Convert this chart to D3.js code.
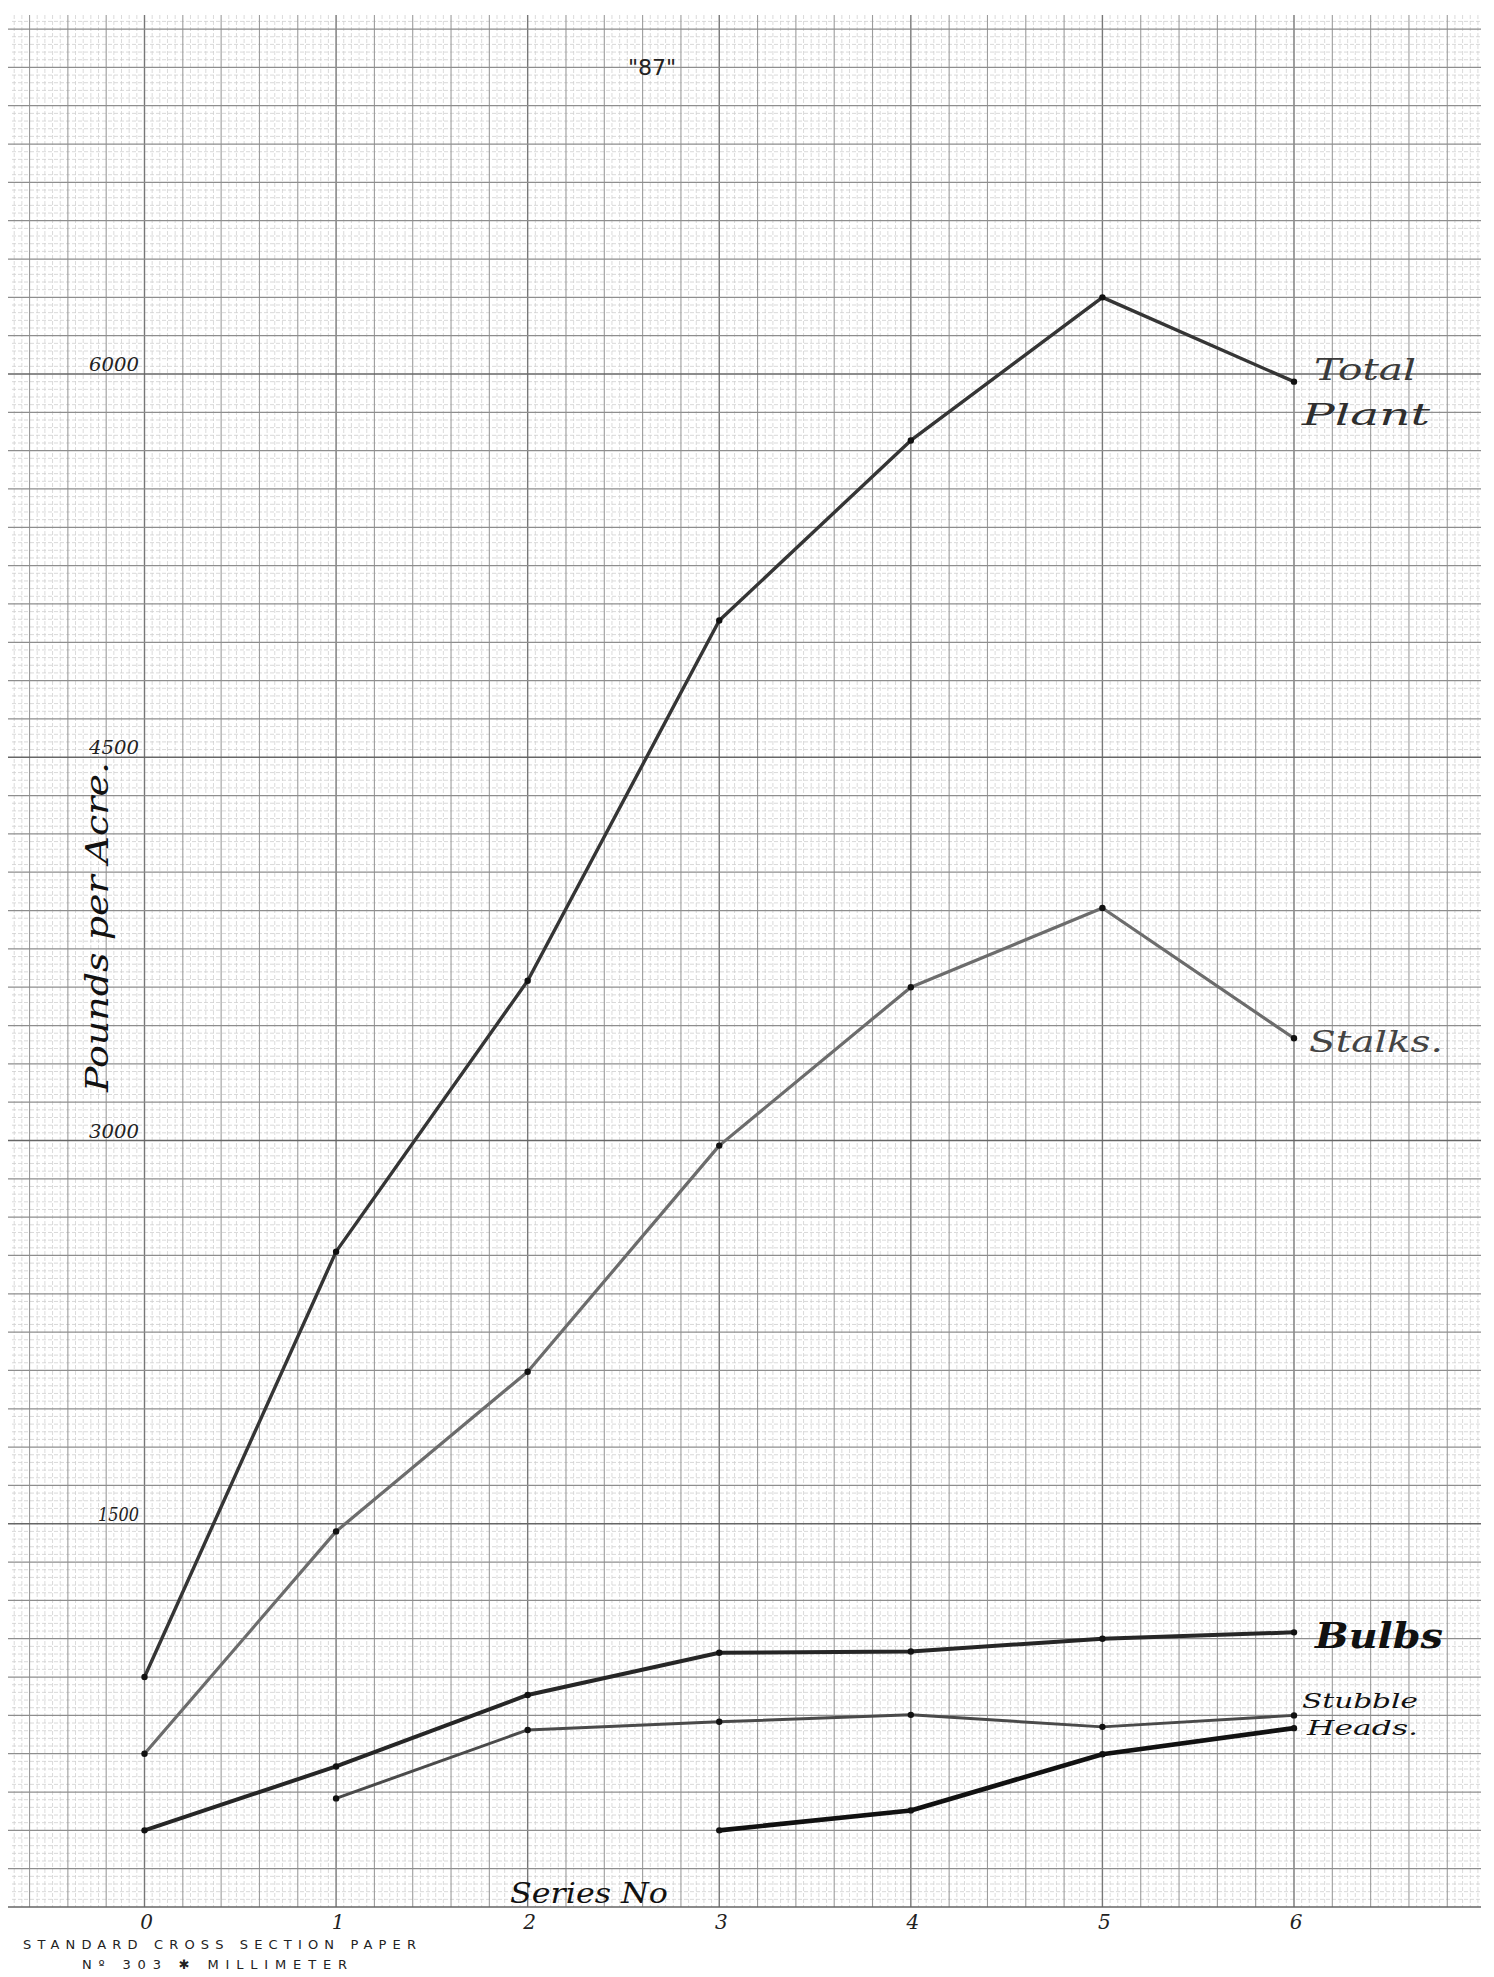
<!DOCTYPE html>
<html>
<head>
<meta charset="utf-8">
<script src="https://cdn.jsdelivr.net/npm/d3@7"></script>
<style>
  html, body { margin: 0; padding: 0; background: #fff; }
  svg { display: block; }
</style>
</head>
<body>
<div id="chart"></div>
<script>
// ---------------- DATA ----------------
const seriesNo = [0, 1, 2, 3, 4, 5, 6];
const xTickLabels = ["0", "1", "2", "3", "4", "5", "6"];
const yTickValues = [1500, 3000, 4500, 6000];
const yTickLabels = ["1500", "3000", "4500", "6000"];

const totalPlant = [900, 2565, 3625, 5035, 5740, 6300, 5970];
const stalks     = [600, 1470, 2095, 2980, 3600, 3910, 3400];
const bulbs      = [300, 550, 830, 995, 1000, 1050, 1075];
const stubble    = [null, 425, 693, 725, 752, 705, 750];
const heads      = [null, null, null, 300, 378, 598, 700];

const titleText = "\"87\"";
const yAxisTitle = "Pounds per Acre.";
const xAxisTitle = "Series No";
const footer1 = "STANDARD CROSS SECTION PAPER";
const footer2 = "N\u00BA 303  \u2731  MILLIMETER";

// ---------------- LAYOUT ----------------
const W = 1494, H = 1977;
const svg = d3.select("#chart").append("svg").attr("width", W).attr("height", H);
svg.append("rect").attr("width", W).attr("height", H).attr("fill", "#fff");

const x = d3.scaleLinear().domain([0, 6]).range([144.5, 1294]);
const y = d3.scaleLinear().domain([0, 6000]).range([1907, 374]);

// paper extents
const gridLeft = 12, gridRight = 1481, gridTop = 15, gridBottom = 1907;
const xMin = x.invert(gridLeft), xMax = x.invert(gridRight);
const yMax = y.invert(gridTop);

// ---------------- GRID (cross-section paper) ----------------
const grid = svg.append("g");
const xStepCm = 0.2, yStepCm = 150;
const fineDiv = 5;

const xFine = d3.range(Math.ceil(xMin / (xStepCm / fineDiv)), Math.floor(xMax / (xStepCm / fineDiv)) + 1)
  .filter(i => i % fineDiv !== 0)
  .map(i => i * xStepCm / fineDiv);
const yFine = d3.range(0, Math.floor(yMax / (yStepCm / fineDiv)) + 1)
  .filter(i => i % fineDiv !== 0)
  .map(i => i * yStepCm / fineDiv);

grid.selectAll(".vf").data(xFine).join("line")
  .attr("x1", d => x(d)).attr("x2", d => x(d))
  .attr("y1", gridTop).attr("y2", gridBottom)
  .attr("stroke", "#d2d2d2").attr("stroke-width", 0.8).attr("stroke-dasharray", "4,2");
grid.selectAll(".hf").data(yFine).join("line")
  .attr("x1", gridLeft).attr("x2", gridRight)
  .attr("y1", d => y(d)).attr("y2", d => y(d))
  .attr("stroke", "#cfcfcf").attr("stroke-width", 0.8).attr("stroke-dasharray", "4,2");

const xCmIdx = d3.range(Math.ceil(xMin / xStepCm), Math.floor(xMax / xStepCm) + 1);
const yCm = d3.range(0, Math.floor(yMax / yStepCm) + 1).map(i => i * yStepCm);

grid.selectAll(".vc").data(xCmIdx).join("line")
  .attr("x1", i => x(i * xStepCm)).attr("x2", i => x(i * xStepCm))
  .attr("y1", gridTop).attr("y2", gridBottom)
  .attr("stroke", i => i % 5 === 0 ? "#777" : "#9c9c9c")
  .attr("stroke-width", i => i % 5 === 0 ? 1.4 : 1.1);
grid.selectAll(".hc").data(yCm).join("line")
  .attr("x1", 8).attr("x2", gridRight)
  .attr("y1", d => y(d)).attr("y2", d => y(d))
  .attr("stroke", d => d % 1500 === 0 ? "#666" : "#8e8e8e")
  .attr("stroke-width", d => d % 1500 === 0 ? 1.6 : 1.25);

// ---------------- LINES ----------------
const series = [
  { name: "Total Plant", values: totalPlant, color: "#353535", width: 3.4 },
  { name: "Stalks",      values: stalks,     color: "#6c6c6c", width: 3.2 },
  { name: "Bulbs",       values: bulbs,      color: "#262626", width: 4.0 },
  { name: "Stubble",     values: stubble,    color: "#4a4a4a", width: 3.0 },
  { name: "Heads",       values: heads,      color: "#111111", width: 4.6 }
];

const line = d3.line()
  .defined(d => d.v !== null)
  .x(d => x(d.s)).y(d => y(d.v));

const plot = svg.append("g");
series.forEach(s => {
  const pts = seriesNo.map((sn, i) => ({ s: sn, v: s.values[i] }));
  plot.append("path").datum(pts)
    .attr("d", line)
    .attr("fill", "none")
    .attr("stroke", s.color)
    .attr("stroke-width", s.width)
    .attr("stroke-linejoin", "round")
    .attr("stroke-linecap", "round");
  plot.selectAll(null).data(pts.filter(d => d.v !== null)).join("circle")
    .attr("cx", d => x(d.s)).attr("cy", d => y(d.v))
    .attr("r", 3.2).attr("fill", "#111");
});

// ---------------- TEXT ----------------
const hand = "'DejaVu Serif', 'Liberation Serif', serif";

svg.append("text").attr("x", 652).attr("y", 75)
  .attr("text-anchor", "middle")
  .attr("font-family", "'DejaVu Sans', sans-serif")
  .attr("font-size", 22).attr("fill", "#222")
  .text(titleText);

svg.selectAll(".ytl").data(yTickValues).join("text")
  .attr("x", d => d === 1500 ? 98 : 89)
  .attr("y", d => y(d) - 3)
  .attr("font-family", hand).attr("font-style", "italic")
  .attr("font-size", 18).attr("fill", "#222")
  .attr("textLength", d => d === 1500 ? 41 : 50)
  .attr("lengthAdjust", "spacingAndGlyphs")
  .text((d, i) => yTickLabels[i]);

svg.append("text")
  .attr("transform", "translate(108, 1092) rotate(-90)")
  .attr("font-family", hand).attr("font-style", "italic")
  .attr("font-size", 31).attr("fill", "#111")
  .attr("textLength", 330).attr("lengthAdjust", "spacingAndGlyphs")
  .text(yAxisTitle);

svg.selectAll(".xtl").data(seriesNo).join("text")
  .attr("x", d => x(d) + 2).attr("y", 1929)
  .attr("text-anchor", "middle")
  .attr("font-family", hand).attr("font-style", "italic")
  .attr("font-size", 20).attr("fill", "#222")
  .text((d, i) => xTickLabels[i]);

svg.append("text").attr("x", 510).attr("y", 1903)
  .attr("font-family", hand).attr("font-style", "italic")
  .attr("font-size", 28).attr("fill", "#111")
  .attr("textLength", 158).attr("lengthAdjust", "spacingAndGlyphs")
  .text(xAxisTitle);

const last = seriesNo[seriesNo.length - 1];
const labels = [
  { text: "Total", dx: 20, v: totalPlant[6], dy: -2, size: 30, w: 102, weight: "normal", color: "#3a3a3a" },
  { text: "Plant", dx: 8,  v: totalPlant[6], dy: 43, size: 30, w: 128, weight: "normal", color: "#2e2e2e" },
  { text: "Stalks.", dx: 15, v: stalks[6], dy: 14, size: 30, w: 134, weight: "normal", color: "#444" },
  { text: "Bulbs", dx: 21, v: bulbs[6], dy: 16, size: 36, w: 128, weight: "bold", color: "#111" },
  { text: "Stubble", dx: 8, v: stubble[6], dy: -7, size: 21, w: 116, weight: "normal", color: "#111" },
  { text: "Heads.", dx: 13, v: heads[6], dy: 7, size: 21, w: 111, weight: "normal", color: "#111" }
];
svg.selectAll(".lbl").data(labels).join("text")
  .attr("x", d => x(last) + d.dx).attr("y", d => y(d.v) + d.dy)
  .attr("font-family", hand).attr("font-style", "italic")
  .attr("font-weight", d => d.weight)
  .attr("font-size", d => d.size).attr("fill", d => d.color)
  .attr("textLength", d => d.w).attr("lengthAdjust", "spacingAndGlyphs")
  .text(d => d.text);

svg.append("text").attr("x", 23).attr("y", 1949)
  .attr("font-family", "'DejaVu Sans', sans-serif").attr("font-size", 13)
  .attr("fill", "#222").attr("textLength", 393).attr("lengthAdjust", "spacing")
  .text(footer1);
svg.append("text").attr("x", 82).attr("y", 1969)
  .attr("font-family", "'DejaVu Sans', sans-serif").attr("font-size", 13)
  .attr("fill", "#222").attr("textLength", 265).attr("lengthAdjust", "spacing")
  .text(footer2);
</script>
</body>
</html>
